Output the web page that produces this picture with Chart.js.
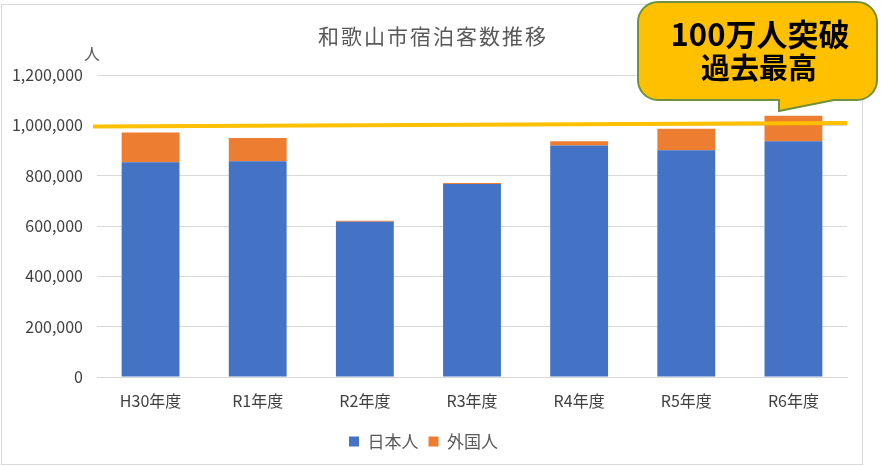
<!DOCTYPE html>
<html><head><meta charset="utf-8">
<script src="https://cdn.jsdelivr.net/npm/chart.js@4"></script>
<style>html,body{margin:0;padding:0;background:#fff}canvas{display:block}</style>
</head><body>
<canvas id="c" width="881" height="466" style="width:881px;height:466px"></canvas>
<script>
const categories = ['H30年度','R1年度','R2年度','R3年度','R4年度','R5年度','R6年度'];
const japanese = [853000, 857000, 617000, 767000, 920000, 901000, 937000];
const foreign  = [119000, 93000, 4000, 4000, 17000, 85000, 101000];
const yTicks = [0, 200000, 400000, 600000, 800000, 1000000, 1200000];
const refLine = [995000, 1009000]; // yellow marker line, start/end values
const titleText = '和歌山市宿泊客数推移';
const unitText = '人';
const calloutLines = ['100万人突破', '過去最高'];

const FONT = '"Noto Sans CJK JP", "Noto Sans", sans-serif';

const deco = {
  id: 'deco',
  beforeDraw(chart) {
    const ctx = chart.ctx;
    ctx.save();
    ctx.fillStyle = '#fff';
    ctx.fillRect(0, 0, chart.width, chart.height);
    ctx.restore();
  },
  afterDatasetsDraw(chart) {
    const ctx = chart.ctx, x = chart.scales.x, y = chart.scales.y;
    ctx.save();
    ctx.strokeStyle = '#FFC000';
    ctx.lineWidth = 4;
    ctx.beginPath();
    ctx.moveTo(x.left - 4, y.getPixelForValue(refLine[0]));
    ctx.lineTo(x.right, y.getPixelForValue(refLine[1]));
    ctx.stroke();
    ctx.restore();
  },
  afterDraw(chart) {
    const ctx = chart.ctx;
    ctx.save();
    ctx.strokeStyle = '#d9d9d9';
    ctx.lineWidth = 1;
    ctx.strokeRect(1.5, 4.5, 861, 460);
    ctx.fillStyle = '#595959';
    ctx.font = '21px ' + FONT;
    ctx.textAlign = 'center';
    ctx.textBaseline = 'middle';
    ctx.letterSpacing = '2px';
    ctx.fillText(titleText, 433, 36);
    ctx.letterSpacing = '0px';
    ctx.font = '16px ' + FONT;
    ctx.fillText(unitText, 92, 54);
    const L = 638, R = 877, T = 2, B = 100, r = 20;
    ctx.beginPath();
    ctx.moveTo(L + r, T);
    ctx.lineTo(R - r, T);
    ctx.arcTo(R, T, R, T + r, r);
    ctx.lineTo(R, B - r);
    ctx.arcTo(R, B, R - r, B, r);
    ctx.lineTo(834, B);
    ctx.lineTo(779, 111);
    ctx.lineTo(779, B);
    ctx.lineTo(L + r, B);
    ctx.arcTo(L, B, L, B - r, r);
    ctx.lineTo(L, T + r);
    ctx.arcTo(L, T, L + r, T, r);
    ctx.closePath();
    ctx.fillStyle = '#FFC000';
    ctx.fill();
    ctx.strokeStyle = '#6f9140';
    ctx.lineWidth = 2;
    ctx.stroke();
    ctx.fillStyle = '#000';
    ctx.font = 'bold 31px ' + FONT;
    ctx.fillText(calloutLines[0], 760, 34);
    ctx.font = 'bold 29px ' + FONT;
    ctx.fillText(calloutLines[1], 759, 68);
    ctx.restore();
  }
};

new Chart(document.getElementById('c'), {
  type: 'bar',
  data: {
    labels: categories,
    datasets: [
      { label: '日本人', data: japanese, backgroundColor: '#4472C4', borderWidth: 0 },
      { label: '外国人', data: foreign, backgroundColor: '#ED7D31', borderWidth: 0 }
    ]
  },
  options: {
    responsive: false,
    animation: false,
    devicePixelRatio: 1,
    layout: { padding: { left: 0, right: 34, top: 75, bottom: 6 } },
    datasets: { bar: { categoryPercentage: 1, barPercentage: 0.54 } },
    scales: {
      x: {
        stacked: true,
        grid: { display: false, drawTicks: false },
        border: { display: true, color: '#d9d9d9', width: 1 },
        ticks: { color: '#404040', font: { family: FONT, size: 16 }, padding: 14 },
        afterFit(s) { s.height = 46; }
      },
      y: {
        stacked: true,
        min: 0, max: 1200000,
        afterBuildTicks(s) { s.ticks = yTicks.map(v => ({ value: v })); },
        grid: { color: '#d9d9d9', drawTicks: false },
        border: { display: false },
        ticks: {
          color: '#404040', font: { family: FONT, size: 16 }, padding: 14,
          callback: v => Number(v).toLocaleString('en-US')
        },
        afterFit(s) { s.width = 97; }
      }
    },
    plugins: {
      legend: {
        position: 'bottom',
        labels: {
          color: '#595959', font: { family: FONT, size: 17 },
          boxWidth: 10, boxHeight: 10, padding: 10
        }
      },
      title: { display: false },
      tooltip: { enabled: false }
    }
  },
  plugins: [deco]
});
</script>
</body></html>
